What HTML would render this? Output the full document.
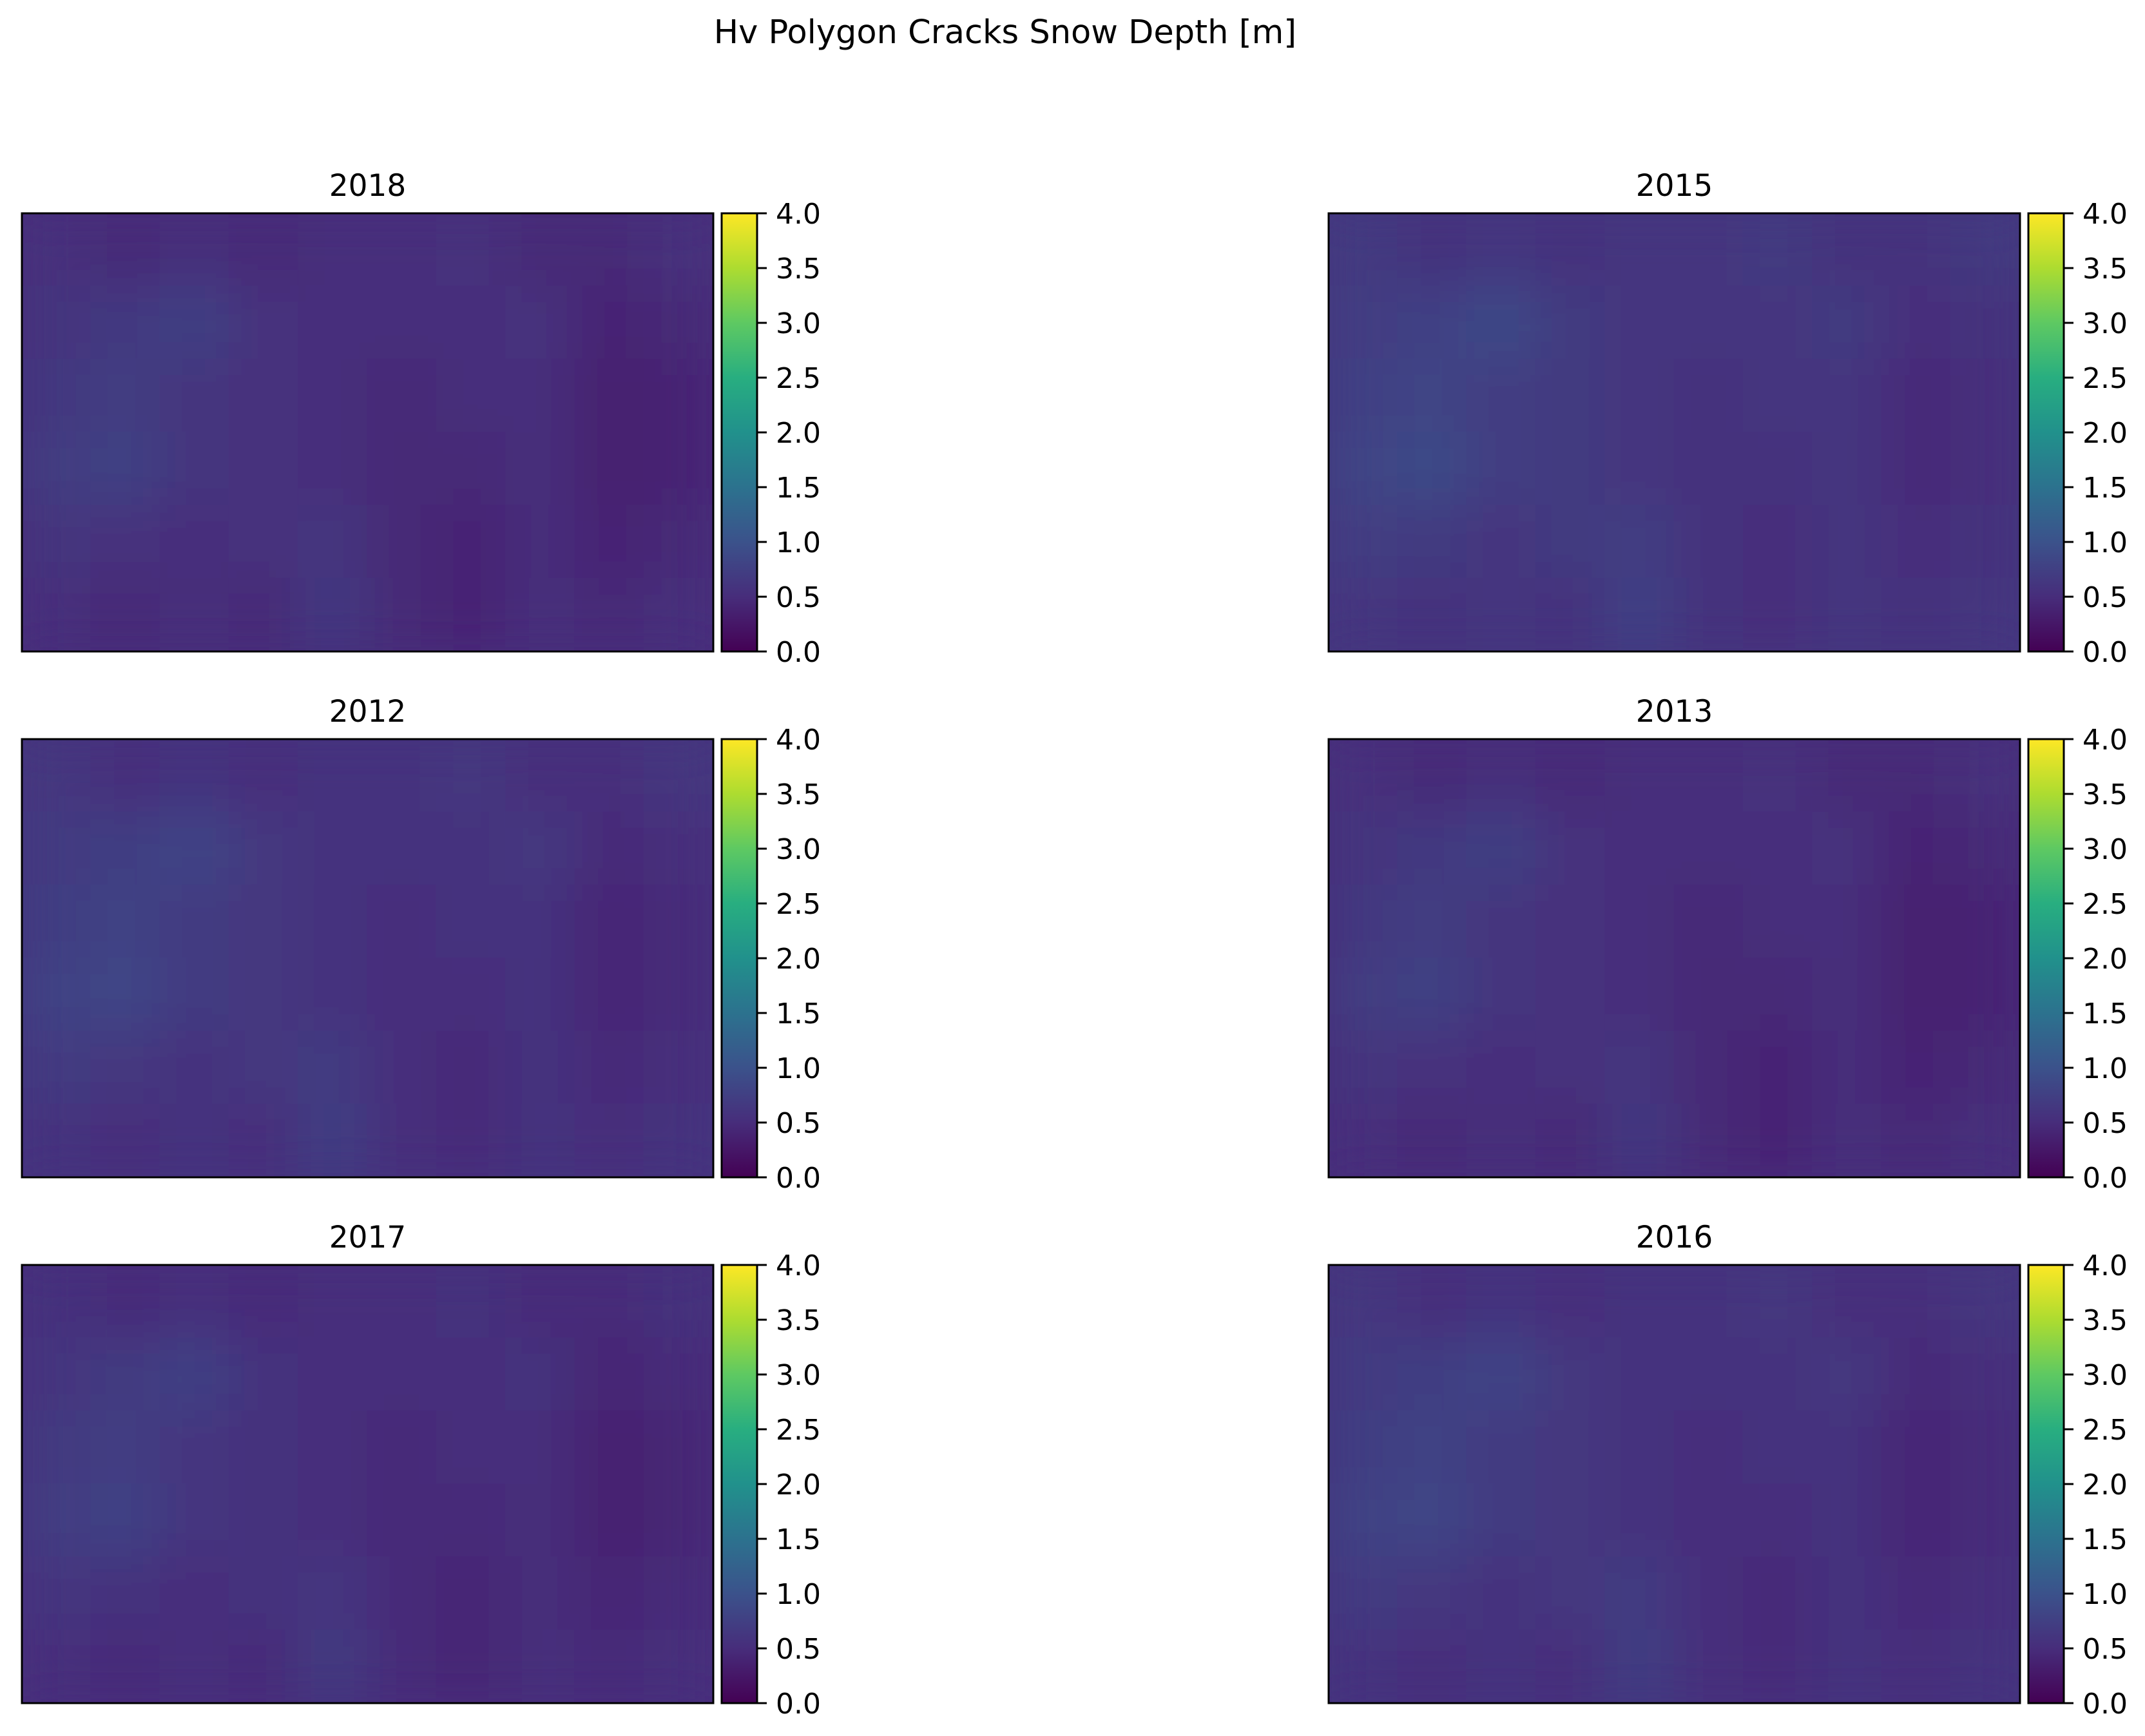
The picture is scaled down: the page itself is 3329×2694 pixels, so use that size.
<!DOCTYPE html>
<html><head><meta charset="utf-8"><style>
html,body{margin:0;padding:0;background:#fff}
svg{display:block}
text{font-family:"DejaVu Sans","Liberation Sans",sans-serif;fill:#000}
</style></head><body>
<svg id="fig" width="3329" height="2694" viewBox="0 0 3329 2694" xmlns="http://www.w3.org/2000/svg">
<defs>
<filter id="blur" x="0" y="0" width="1" height="1"><feGaussianBlur stdDeviation="38"/></filter>
<linearGradient id="viridis" x1="0" y1="1" x2="0" y2="0">
<stop offset="0" stop-color="#440154"/><stop offset="0.125" stop-color="#472d7b"/>
<stop offset="0.25" stop-color="#3b528b"/><stop offset="0.375" stop-color="#2c728e"/>
<stop offset="0.5" stop-color="#21918c"/><stop offset="0.625" stop-color="#28ae80"/>
<stop offset="0.75" stop-color="#5ec962"/><stop offset="0.875" stop-color="#addc30"/>
<stop offset="1" stop-color="#fde725"/>
</linearGradient>
</defs>
<text x="1560" y="67" font-size="51" text-anchor="middle">Hv Polygon Cracks Snow Depth [m]</text>
<g id="panels"></g>
</svg>
<script>
// Panel titles (years), in layout order
const years = ["2018","2015","2012","2013","2017","2016"];
// Approximate mean snow depth offsets per panel (m)
const yearOffsets = [0.0, 0.12, 0.08, 0.0, 0.02, 0.08];
// Coarse snow-depth grid (m), 6 rows x 10 cols
const baseGrid = [
  [0.55,0.45,0.50,0.45,0.50,0.50,0.55,0.45,0.45,0.55],
  [0.60,0.65,0.75,0.55,0.50,0.50,0.50,0.55,0.40,0.45],
  [0.65,0.70,0.60,0.55,0.50,0.45,0.50,0.50,0.35,0.40],
  [0.70,0.75,0.60,0.55,0.50,0.45,0.45,0.50,0.35,0.40],
  [0.60,0.55,0.50,0.55,0.60,0.45,0.40,0.50,0.40,0.45],
  [0.50,0.45,0.50,0.45,0.65,0.45,0.40,0.50,0.45,0.50]
];
const cbTicks = [0.0,0.5,1.0,1.5,2.0,2.5,3.0,3.5,4.0];
const vmin = 0, vmax = 4;

const stops = [[68,1,84],[71,45,123],[59,82,139],[44,114,142],[33,145,140],[40,174,128],[94,201,98],[173,220,48],[253,231,37]];
function viridis(v){
  let t = Math.max(0, Math.min(1, (v - vmin) / (vmax - vmin))) * 8;
  const i = Math.min(7, Math.floor(t)); const f = t - i;
  const a = stops[i], b = stops[i+1];
  return `rgb(${a.map((c,k)=>Math.round(c+(b[k]-c)*f)).join(',')})`;
}
const NS = "http://www.w3.org/2000/svg";
function mk(tag, attrs, parent){
  const e = document.createElementNS(NS, tag);
  for (const k in attrs) e.setAttribute(k, attrs[k]);
  parent.appendChild(e); return e;
}
const colX = [34, 2062], rowY = [331, 1147, 1963];
const PW = 1073, PH = 680;
const root = document.getElementById('panels');
years.forEach((yr, idx) => {
  const px = colX[idx % 2], py = rowY[Math.floor(idx / 2)];
  const g = mk('g', {}, root);
  
  
  const t = mk('text', {x: px + PW/2, y: py - 27, 'font-size': 47, 'text-anchor': 'middle'}, g);
  t.textContent = yr;
  
  
  const clipId = 'clip' + idx;
  const cp = mk('clipPath', {id: clipId}, g);
  mk('rect', {x: px, y: py, width: PW, height: PH}, cp);
  const hm = mk('g', {'clip-path': `url(#${clipId})`}, g);
  
  
  mk('rect', {x: px, y: py, width: PW, height: PH, fill: viridis(0.5 + yearOffsets[idx])}, hm);
  const inner = mk('g', {filter: 'url(#blur)'}, hm);
  const rows = baseGrid.length, cols = baseGrid[0].length;
  const cw = PW / cols, ch = PH / rows;
  baseGrid.forEach((row, r) => row.forEach((v, c) => {
    const cell = mk('rect', {x: px + c*cw - 1, y: py + r*ch - 1, width: cw + 2, height: ch + 2, fill: viridis(v + yearOffsets[idx])}, inner);
    
    
  }));
  mk('rect', {x: px, y: py, width: PW, height: PH, fill: 'none', stroke: '#000', 'stroke-width': 3}, g);
  // colorbar
  const cx = px + 1086, cwid = 55;
  const cb = mk('g', {}, g);
  
  
  mk('rect', {x: cx, y: py, width: cwid, height: PH, fill: 'url(#viridis)', stroke: '#000', 'stroke-width': 3}, cb);
  cbTicks.forEach(v => {
    const y = py + PH - (v - vmin) / (vmax - vmin) * PH;
    mk('line', {x1: cx + cwid, x2: cx + cwid + 15, y1: y, y2: y, stroke: '#000', 'stroke-width': 3}, cb);
    const tl = mk('text', {x: cx + cwid + 29, y: y + 16, 'font-size': 44}, cb);
    tl.textContent = v.toFixed(1);
    
    
  });
});
</script>
</body></html>
